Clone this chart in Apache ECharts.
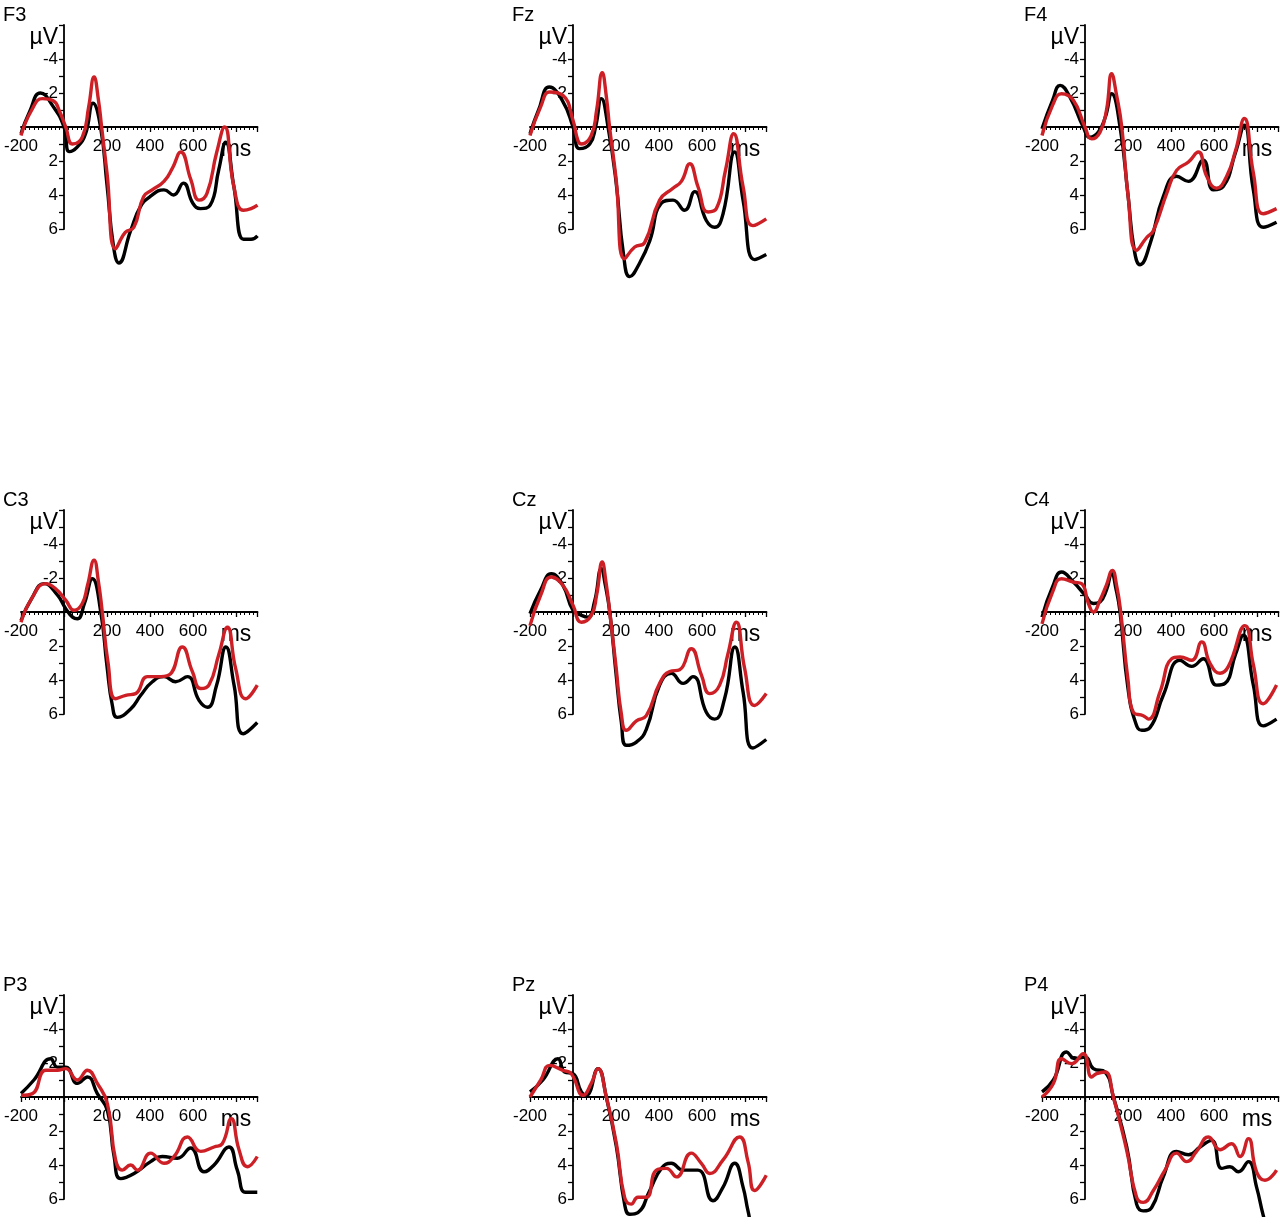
<!doctype html>
<html>
<head>
<meta charset="UTF-8">
<title>ERP</title>
<script src="https://cdn.jsdelivr.net/npm/echarts@6.0.0/dist/echarts.min.js"></script>
<style>
  html, body { margin: 0; padding: 0; background: #fff; }
  #main { width: 1280px; height: 1217px; }
</style>
</head>
<body>
<div id="main"></div>
<script>
// electrode names, reading order
var channels = ['F3', 'Fz', 'F4', 'C3', 'Cz', 'C4', 'P3', 'Pz', 'P4'];

// [ms, µV]; black = condition 1, red = condition 2
var f3Black = [[-200,0.4],[-160,-0.9],[-110,-2.0],[-50,-1.2],[0,0],[25,1.45],[60,1.2],[100,0.4],[135,-1.4],[170,0],[200,3.4],[230,7.0],[255,8.0],[310,6.1],[355,4.7],[400,4.1],[465,3.7],[510,4.0],[555,3.3],[600,4.5],[635,4.8],[680,4.6],[720,2.5],[752,0.9],[790,3.5],[835,6.6],[870,6.6],[900,6.4]];
var f3Red = [[-200,0.5],[-150,-1.0],[-100,-1.67],[-50,-1.55],[-20,-0.9],[8,0],[40,1.0],[85,0.6],[115,-1.2],[140,-2.94],[160,-1.6],[175,0],[200,2.7],[240,7.16],[285,6.2],[325,5.9],[370,4.1],[410,3.7],[465,3.2],[505,2.4],[543,1.47],[590,3.1],[628,4.3],[665,3.9],[710,1.5],[747,0.0],[790,3.5],[835,4.9],[870,4.8],[900,4.6]];

var fzBlack = [[-200,0.4],[-160,-1.0],[-110,-2.35],[-50,-1.57],[0,0],[30,1.27],[78,1.0],[105,0.0],[132,-1.67],[163,0],[200,3.2],[235,7.5],[264,8.8],[310,8.0],[357,6.7],[410,4.5],[465,4.3],[519,4.9],[566,3.8],[620,5.5],[659,5.9],[698,5.1],[752,1.47],[791,4.3],[845,7.8],[899,7.5]];
var fzRed = [[-200,0.5],[-150,-1.2],[-108,-2.06],[-47,-1.86],[0,-0.4],[23,0.8],[40,1.0],[85,0.5],[110,-1.0],[136,-3.2],[155,-1.8],[170,0],[200,3.0],[240,7.75],[287,7.06],[333,6.8],[403,4.3],[465,3.6],[504,3.2],[543,2.16],[581,3.5],[628,5.0],[667,4.8],[710,2.5],[747,0.4],[791,3.5],[837,5.8],[899,5.4]];

var f4Black = [[-200,0.1],[-150,-1.6],[-116,-2.45],[-70,-1.76],[-8,0],[23,0.6],[62,0.3],[95,-0.6],[124,-1.96],[163,0],[200,4.0],[230,7.3],[256,8.1],[302,6.9],[364,4.1],[426,2.9],[481,3.2],[550,1.96],[597,3.7],[643,3.5],[700,1.5],[741,-0.1],[783,3.7],[829,5.9],[891,5.6]];
var f4Red = [[-200,0.5],[-150,-1.3],[-109,-1.96],[-54,-1.57],[0,0],[31,0.7],[70,0.3],[100,-1.0],[124,-3.14],[145,-2.0],[171,0],[200,4.0],[240,7.25],[287,6.5],[318,6.1],[380,3.9],[426,2.55],[481,2.06],[527,1.47],[566,2.9],[612,3.6],[659,2.9],[700,1.4],[741,-0.5],[783,2.7],[829,5.1],[891,4.8]];

var c3Black = [[-200,0.5],[-150,-0.8],[-93,-1.67],[-31,-1.0],[8,-0.2],[40,0.3],[62,0.4],[95,-0.5],[132,-1.96],[171,0],[200,3.2],[225,5.5],[248,6.2],[310,5.7],[357,4.9],[411,4.1],[465,3.8],[519,4.1],[574,3.8],[628,5.2],[667,5.6],[710,4.3],[753,2.06],[791,4.3],[834,7.16],[899,6.5]];
var c3Red = [[-200,0.6],[-150,-0.8],[-85,-1.67],[-39,-1.37],[8,-0.7],[47,-0.1],[85,-0.5],[110,-1.6],[140,-3.04],[160,-1.8],[178,0],[205,3.0],[240,5.1],[287,4.9],[333,4.8],[388,3.8],[434,3.8],[488,3.7],[550,2.06],[597,3.5],[636,4.5],[674,4.3],[720,2.5],[760,0.9],[798,3.3],[845,5.1],[899,4.3]];

var czBlack = [[-200,0.1],[-150,-1.3],[-101,-2.25],[-47,-1.57],[0,-0.1],[40,0.2],[70,0.3],[100,-0.6],[132,-2.55],[150,-1.6],[171,0],[200,3.6],[225,6.5],[248,7.84],[295,7.65],[341,6.9],[403,4.3],[457,3.6],[512,4.2],[558,3.8],[620,5.9],[659,6.3],[705,5.1],[753,2.06],[791,4.7],[837,8.0],[899,7.5]];
var czRed = [[-200,0.8],[-150,-1.0],[-101,-2.06],[-47,-1.57],[0,-0.4],[39,0.6],[85,0.2],[110,-1.0],[136,-2.94],[153,-1.8],[171,0],[200,3.2],[225,6.0],[248,6.96],[295,6.4],[341,6.1],[403,4.2],[450,3.5],[496,3.4],[550,2.16],[597,3.7],[636,4.8],[682,4.3],[720,2.5],[760,0.6],[798,3.3],[845,5.5],[899,4.8]];

var c4Black = [[-200,0.3],[-150,-1.5],[-109,-2.35],[-54,-1.76],[0,-1.0],[39,-0.5],[70,-0.6],[100,-1.3],[124,-2.25],[145,-1.3],[163,0],[200,4.5],[235,6.5],[264,6.96],[302,6.8],[364,4.9],[442,2.84],[496,3.2],[550,2.75],[612,4.3],[651,4.2],[700,2.5],[736,1.37],[783,4.3],[829,6.7],[891,6.3]];
var c4Red = [[-200,0.7],[-150,-1.2],[-109,-1.96],[-54,-1.76],[-16,-1.67],[16,-0.5],[39,0],[70,-0.7],[100,-1.6],[127,-2.45],[148,-1.5],[166,0],[200,4.0],[225,5.9],[271,6.1],[295,6.3],[349,4.7],[403,2.75],[442,2.65],[496,2.84],[543,1.76],[581,3.0],[628,3.6],[667,3.2],[744,0.8],[783,3.1],[829,5.4],[891,4.3]];

var p3Black = [[-200,-0.2],[-140,-1.0],[-62,-2.25],[-31,-1.76],[8,-1.76],[62,-0.8],[109,-1.18],[155,-0.2],[202,0.8],[233,3.5],[264,4.8],[326,4.5],[403,3.8],[457,3.5],[527,3.6],[589,3.0],[651,4.4],[698,4.0],[767,2.94],[806,4.3],[845,5.6],[899,5.6]];
var p3Red = [[-200,-0.1],[-147,-0.2],[-85,-1.57],[-31,-1.57],[8,-1.67],[62,-1.0],[109,-1.57],[155,-0.8],[202,0.4],[240,3.7],[271,4.3],[310,4.0],[341,4.3],[403,3.3],[465,3.9],[512,3.5],[574,2.35],[636,3.2],[698,2.94],[736,2.75],[778,1.27],[814,3.1],[853,4.1],[899,3.5]];

var pzBlack = [[-200,-0.3],[-140,-1.0],[-70,-2.25],[-39,-1.47],[0,-1.37],[39,-0.3],[62,-0.1],[116,-1.67],[155,0],[202,2.94],[240,6.3],[264,6.9],[302,6.8],[357,5.5],[411,4.2],[457,3.9],[512,4.3],[581,4.3],[651,6.1],[698,5.3],[752,3.9],[791,5.3],[814,6.7],[850,8.5],[900,9.0]];
var pzRed = [[-200,0.0],[-150,-1.0],[-108,-1.86],[-47,-1.57],[-8,-1.37],[47,-0.1],[85,-0.8],[116,-1.67],[155,0],[202,2.75],[240,5.9],[271,6.3],[302,5.9],[341,5.9],[388,4.3],[434,4.2],[481,4.7],[550,3.3],[597,3.9],[636,4.5],[698,3.7],[775,2.35],[814,3.8],[845,5.5],[899,4.6]];

var p4Black = [[-200,-0.3],[-147,-1.0],[-85,-2.65],[-47,-2.25],[0,-2.35],[39,-1.67],[93,-1.47],[132,0],[194,2.94],[240,6.3],[271,6.7],[310,6.5],[364,4.7],[426,3.2],[481,3.4],[535,2.94],[589,2.55],[636,4.2],[674,4.1],[713,4.4],[760,3.8],[798,5.3],[829,6.96],[860,8.3],[900,8.5]];
var p4Red = [[-200,0],[-147,-0.8],[-109,-2.25],[-62,-1.96],[-8,-2.55],[31,-1.18],[54,-1.37],[93,-1.47],[132,0],[194,3.14],[240,5.9],[271,6.2],[318,5.5],[372,4.3],[426,3.3],[473,3.8],[519,3.2],[574,2.35],[628,3.1],[682,2.75],[721,3.5],[760,2.45],[798,4.4],[837,4.9],[891,4.3]];

var blackData = [f3Black, fzBlack, f4Black, c3Black, czBlack, c4Black, p3Black, pzBlack, p4Black];
var redData = [f3Red, fzRed, f4Red, c3Red, czRed, c4Red, p3Red, pzRed, p4Red];

var xLabels = [-200, 200, 400, 600];
var yLabels = [-4, -2, 2, 4, 6];

// layout: pixel x of the µV axis per column, pixel y of -6 per row
var colAxisX = [64, 573, 1085];
var rowTop = [25, 510, 995];
var pxPerMs = 0.215;
var plotH = 204;

var FONT = '"Liberation Sans", Arial, sans-serif';

var grids = [], xAxes = [], yAxes = [], series = [], titles = [];

for (var i = 0; i < channels.length; i++) {
    var col = i % 3, row = Math.floor(i / 3);
    grids.push({
        left: colAxisX[col] - 200 * pxPerMs,
        top: rowTop[row],
        width: 1100 * pxPerMs,
        height: plotH,
        outerBoundsMode: 'none',
        containLabel: false
    });
    titles.push({
        text: channels[i],
        left: colAxisX[col] - 61,
        top: rowTop[row] - 20,
        padding: 0,
        textStyle: { fontFamily: FONT, fontSize: 20, fontWeight: 'normal', color: '#000' }
    });
    // axes sit on the zero lines: x moved up half the plot, y moved right by 200 ms
    xAxes.push({
        gridIndex: i,
        type: 'value',
        position: 'bottom',
        offset: -plotH / 2,
        min: -200,
        max: 900,
        interval: 200,
        axisLine: { onZero: false, lineStyle: { color: '#000', width: 1.8 } },
        axisTick: { length: 5, lineStyle: { color: '#000', width: 1.3 } },
        minorTick: { show: true, splitNumber: 10, length: 3, lineStyle: { color: '#000', width: 1 } },
        splitLine: { show: false },
        axisLabel: {
            color: '#000',
            fontFamily: FONT,
            fontSize: 17,
            margin: 11,
            formatter: function (v) {
                if (v === 800) return '{u|ms}';
                return xLabels.indexOf(v) >= 0 ? String(v) : '';
            },
            rich: { u: { fontFamily: FONT, fontSize: 23, color: '#000' } }
        }
    });
    yAxes.push({
        gridIndex: i,
        type: 'value',
        position: 'left',
        offset: -200 * pxPerMs,
        inverse: true,
        min: -6,
        max: 6,
        interval: 1,
        axisLine: { onZero: false, lineStyle: { color: '#000', width: 1.8 } },
        axisTick: { length: 5, lineStyle: { color: '#000', width: 1.3 } },
        splitLine: { show: false },
        axisLabel: {
            color: '#000',
            fontFamily: FONT,
            fontSize: 17,
            margin: 6,
            formatter: function (v) {
                if (v === -5) return '{u|µV}';
                return yLabels.indexOf(v) >= 0 ? String(v) : '';
            },
            rich: { u: { fontFamily: FONT, fontSize: 23, color: '#000', padding: [0, 0, 8, 0] } }
        }
    });
    series.push({
        type: 'line',
        xAxisIndex: i,
        yAxisIndex: i,
        data: blackData[i],
        showSymbol: false,
        smooth: 0.5,
        clip: false,
        lineStyle: { color: '#000', width: 3.4 },
        z: 2
    });
    series.push({
        type: 'line',
        xAxisIndex: i,
        yAxisIndex: i,
        data: redData[i],
        showSymbol: false,
        smooth: 0.5,
        clip: false,
        lineStyle: { color: '#cc2026', width: 3.4 },
        z: 3
    });
}

var chart = echarts.init(document.getElementById('main'));
chart.setOption({
    animation: false,
    backgroundColor: '#fff',
    title: titles,
    grid: grids,
    xAxis: xAxes,
    yAxis: yAxes,
    series: series
});
</script>
</body>
</html>
